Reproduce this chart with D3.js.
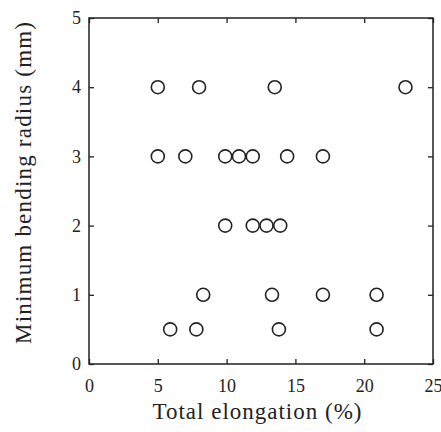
<!DOCTYPE html>
<html>
<head>
<meta charset="UTF-8">
<title>Minimum bending radius vs total elongation</title>
<script src="https://d3js.org/d3.v7.min.js"></script>
<style>
  body { margin: 0; background: #fff; }
  text { font-family: "Liberation Serif", "DejaVu Serif", serif; fill: #222; }
  .axis path, .axis line { stroke: #222; stroke-width: 1.3px; }
  .axis text { font-size: 18px; }
</style>
</head>
<body>
<svg id="plot" width="441" height="432"></svg>
<script>
// elongation (%) and bending radius (mm)
const elongation = [5.0, 8.0, 13.5, 23.0,
                    5.0, 7.0, 9.9, 10.9, 11.9, 14.4, 17.0,
                    9.9, 11.9, 12.9, 13.9,
                    8.3, 13.3, 17.0, 20.9,
                    5.9, 7.8, 13.8, 20.9];
const radius = [4, 4, 4, 4,
                3, 3, 3, 3, 3, 3, 3,
                2, 2, 2, 2,
                1, 1, 1, 1,
                0.5, 0.5, 0.5, 0.5];
const xTicks = [0, 5, 10, 15, 20, 25];
const yTicks = [0, 1, 2, 3, 4, 5];

const svg = d3.select("#plot");
const margin = {left: 89, right: 8, top: 18, bottom: 68};
const width = 441 - margin.left - margin.right;
const height = 432 - margin.top - margin.bottom;

const g = svg.append("g").attr("transform", `translate(${margin.left},${margin.top})`);

const x = d3.scaleLinear().domain([0, 25]).range([0, width]);
const y = d3.scaleLinear().domain([0, 5]).range([height, 0]);

// inward ticks on all four sides, labels only bottom and left
g.append("g").attr("class", "axis")
  .attr("transform", `translate(0,${height})`)
  .call(d3.axisBottom(x).tickValues(xTicks).tickSize(-5).tickSizeOuter(0).tickPadding(15).tickFormat(d3.format("d")));
g.append("g").attr("class", "axis")
  .call(d3.axisTop(x).tickValues(xTicks).tickSize(-5).tickSizeOuter(0).tickFormat(""));
g.append("g").attr("class", "axis")
  .call(d3.axisLeft(y).tickValues(yTicks).tickSize(-5).tickSizeOuter(0).tickPadding(8).tickFormat(d3.format("d")));
g.append("g").attr("class", "axis")
  .attr("transform", `translate(${width},0)`)
  .call(d3.axisRight(y).tickValues(yTicks).tickSize(-5).tickSizeOuter(0).tickFormat(""));

g.selectAll(".axis .domain").remove();
g.append("rect")
  .attr("width", width).attr("height", height)
  .attr("fill", "none").attr("stroke", "#222").attr("stroke-width", 1.5);

const pts = elongation.map((e, i) => ({e: e, r: radius[i]}));
g.append("g").selectAll("circle")
  .data(pts)
  .enter().append("circle")
  .attr("cx", d => x(d.e))
  .attr("cy", d => y(d.r))
  .attr("r", 6.5)
  .attr("fill", "none")
  .attr("stroke", "#222")
  .attr("stroke-width", 1.6);

svg.append("text")
  .attr("x", 257)
  .attr("y", 419)
  .attr("text-anchor", "middle")
  .attr("textLength", 209)
  .attr("lengthAdjust", "spacing")
  .style("font-size", "23px")
  .text("Total elongation (%)");

svg.append("text")
  .attr("transform", `translate(31,183) rotate(-90)`)
  .attr("text-anchor", "middle")
  .attr("textLength", 322)
  .attr("lengthAdjust", "spacing")
  .style("font-size", "23px")
  .text("Minimum bending radius (mm)");
</script>
</body>
</html>
